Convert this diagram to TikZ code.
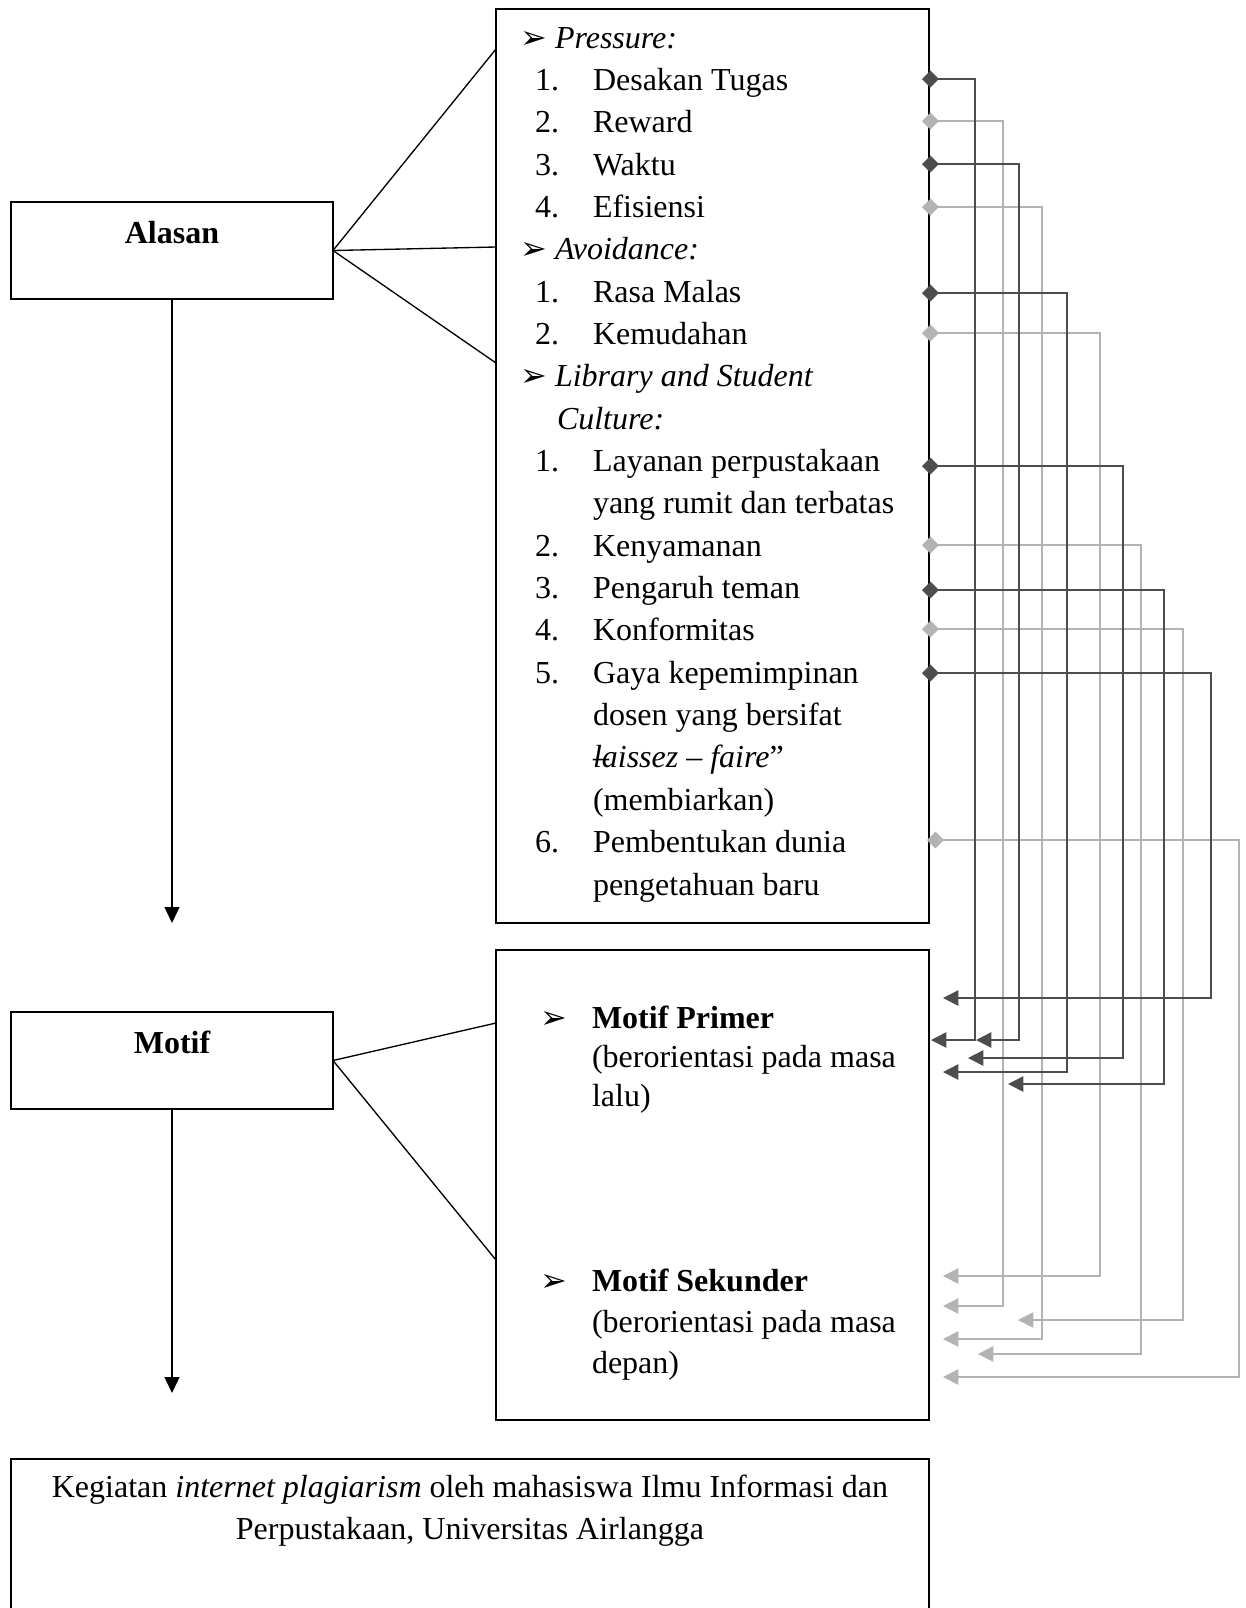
\documentclass[tikz,border=0pt]{standalone}
\usepackage{fontspec}
\setmainfont{Liberation Serif}
\newfontfamily\dingfont{DejaVu Sans}
\usetikzlibrary{arrows.meta}
\definecolor{darkg}{HTML}{4D4D4D}
\definecolor{lightg}{HTML}{B3B3B3}
\begin{document}
\begin{tikzpicture}[x=0.375pt,y=-0.375pt,
  boxst/.style={draw=black,line width=0.65pt,rectangle,inner sep=0pt,outer sep=0pt},
  txt/.style={anchor=base west,inner sep=0pt,outer sep=0pt,font=\fontsize{12}{14}\selectfont},
  ctxt/.style={anchor=base,inner sep=0pt,outer sep=0pt,font=\fontsize{12}{14}\selectfont},
  bul/.style={anchor=base west,inner sep=0pt,outer sep=0pt,font=\dingfont\fontsize{12}{14}\selectfont},
  conn/.style={line width=0.6pt,line join=miter},
  darkcon/.style={conn,draw=darkg,{Diamond[length=6.3pt,width=6.3pt]}-{Triangle[length=5.8pt,width=5.8pt]}},
  lightcon/.style={conn,draw=lightg,{Diamond[length=6.3pt,width=6.3pt]}-{Triangle[length=5.8pt,width=5.8pt]}},
  leftline/.style={draw=black,line width=0.5pt},
  downarrow/.style={draw=black,line width=0.55pt,-{Triangle[length=6pt,width=5.6pt]}}
]
\fill[white] (0,0) rectangle (1246,1608);
\useasboundingbox (0,0) rectangle (1246,1608);

% boxes
\node[boxst,minimum width=120.75pt,minimum height=36.375pt] (alasan) at (172,250.5) {};
\node[boxst,minimum width=162.375pt,minimum height=342.75pt] (topbox) at (712.5,466) {};
\node[boxst,minimum width=120.75pt,minimum height=36.375pt] (motif) at (172,1060.5) {};
\node[boxst,minimum width=162.375pt,minimum height=176.25pt] (mbox) at (712.5,1185) {};
\node[boxst,minimum width=344.25pt,minimum height=60.375pt] (result) at (470,1539.5) {};

% box titles
\node[ctxt,font=\fontsize{12}{14}\selectfont\bfseries] (alasantxt) at (172,243) {Alasan};
\node[ctxt,font=\fontsize{12}{14}\selectfont\bfseries] (motiftxt) at (172,1053) {Motif};

% top box content
\node[bul] (bp) at (520,48) {➢};
\node[txt] (hp) at (555,48) {\textit{Pressure:}};
\node[txt] (n1) at (535,90.35) {1.};   \node[txt] (i1) at (593,90.35) {Desakan Tugas};
\node[txt] (n2) at (535,132.7) {2.};   \node[txt] (i2) at (593,132.7) {Reward};
\node[txt] (n3) at (535,175.05) {3.};  \node[txt] (i3) at (593,175.05) {Waktu};
\node[txt] (n4) at (535,217.4) {4.};   \node[txt] (i4) at (593,217.4) {Efisiensi};
\node[bul] (ba) at (520,259.75) {➢};
\node[txt] (ha) at (555,259.75) {\textit{Avoidance:}};
\node[txt] (n5) at (535,302.1) {1.};   \node[txt] (i5) at (593,302.1) {Rasa Malas};
\node[txt] (n6) at (535,344.45) {2.};  \node[txt] (i6) at (593,344.45) {Kemudahan};
\node[bul] (bl) at (520,386.8) {➢};
\node[txt] (hl) at (555,386.8) {\textit{Library and Student}};
\node[txt] (hl2) at (557,429.15) {\textit{Culture:}};
\node[txt] (n7) at (535,471.5) {1.};   \node[txt] (i7) at (593,471.5) {Layanan perpustakaan};
\node[txt] (i7b) at (593,513.85) {yang rumit dan terbatas};
\node[txt] (n8) at (535,556.2) {2.};   \node[txt] (i8) at (593,556.2) {Kenyamanan};
\node[txt] (n9) at (535,598.55) {3.};  \node[txt] (i9) at (593,598.55) {Pengaruh teman};
\node[txt] (n10) at (535,640.9) {4.};  \node[txt] (i10) at (593,640.9) {Konformitas};
\node[txt] (n11) at (535,683.25) {5.}; \node[txt] (i11) at (593,683.25) {Gaya kepemimpinan};
\node[txt] (i11b) at (593,725.6) {dosen yang bersifat};
\node[txt] (i11c) at (593,767.95) {\rlap{–}\textit{laissez – faire}”};
\node[txt] (i11d) at (593,810.3) {(membiarkan)};
\node[txt] (n12) at (535,852.65) {6.}; \node[txt] (i12) at (593,852.65) {Pembentukan dunia};
\node[txt] (i12b) at (593,895) {pengetahuan baru};

% motif box content
\node[bul] (bm1) at (540,1028) {➢};
\node[txt] (mp1) at (592,1028) {\textbf{Motif Primer}};
\node[txt] (mp2) at (592,1067) {(berorientasi pada masa};
\node[txt] (mp3) at (592,1106) {lalu)};
\node[bul] (bm2) at (540,1291) {➢};
\node[txt] (ms1) at (592,1291) {\textbf{Motif Sekunder}};
\node[txt] (ms2) at (592,1332) {(berorientasi pada masa};
\node[txt] (ms3) at (592,1373) {depan)};

% result box content
\node[ctxt] (r1) at (470,1497) {Kegiatan \textit{internet plagiarism} oleh mahasiswa Ilmu Informasi dan};
\node[ctxt] (r2) at (470,1539) {Perpustakaan, Universitas Airlangga};

% left connectors
\coordinate (pa) at (496,49);
\coordinate (pb) at (496,247);
\coordinate (pc) at (496,363);
\coordinate (ma) at (496,1023);
\coordinate (mb) at (496,1260);
\coordinate (adown) at (172,923);
\coordinate (mdown) at (172,1393);
\draw[leftline] (pa) -- (alasan.east) -- (pc);
\draw[leftline] (alasan.east) -- (pb);
\draw[leftline] (ma) -- (motif.east) -- (mb);
\draw[downarrow] (alasan.south) -- (adown);
\draw[downarrow] (motif.south) -- (mdown);

% right connectors: dark (to Motif Primer)
\coordinate (d1) at (922,79);   \coordinate (k1) at (975,1040);  \coordinate (e1) at (931,1040);
\coordinate (d2) at (922,164);  \coordinate (k2) at (1019,1040); \coordinate (e2) at (976,1040);
\coordinate (d3) at (922,293);  \coordinate (k3) at (1067,1072); \coordinate (e3) at (943,1072);
\coordinate (d4) at (922,466);  \coordinate (k4) at (1123,1058); \coordinate (e4) at (968,1058);
\coordinate (d5) at (922,590);  \coordinate (k5) at (1164,1084); \coordinate (e5) at (1008,1084);
\coordinate (d6) at (922,673);  \coordinate (k6) at (1211,998);  \coordinate (e6) at (943,998);
% light (to Motif Sekunder)
\coordinate (d7) at (922,121);  \coordinate (k7) at (1003,1306); \coordinate (e7) at (943,1306);
\coordinate (d8) at (922,207);  \coordinate (k8) at (1042,1339); \coordinate (e8) at (943,1339);
\coordinate (d9) at (922,333);  \coordinate (k9) at (1100,1276); \coordinate (e9) at (943,1276);
\coordinate (d10) at (922,545); \coordinate (k10) at (1141,1354); \coordinate (e10) at (978,1354);
\coordinate (d11) at (922,629); \coordinate (k11) at (1183,1320); \coordinate (e11) at (1018,1320);
\coordinate (d12) at (927,840); \coordinate (k12) at (1239,1377); \coordinate (e12) at (943,1377);

\foreach \i in {7,...,12} {\draw[lightcon] (d\i) -| (k\i) -- (e\i);}
\foreach \i in {1,...,6} {\draw[darkcon] (d\i) -| (k\i) -- (e\i);}
\end{tikzpicture}
\end{document}
